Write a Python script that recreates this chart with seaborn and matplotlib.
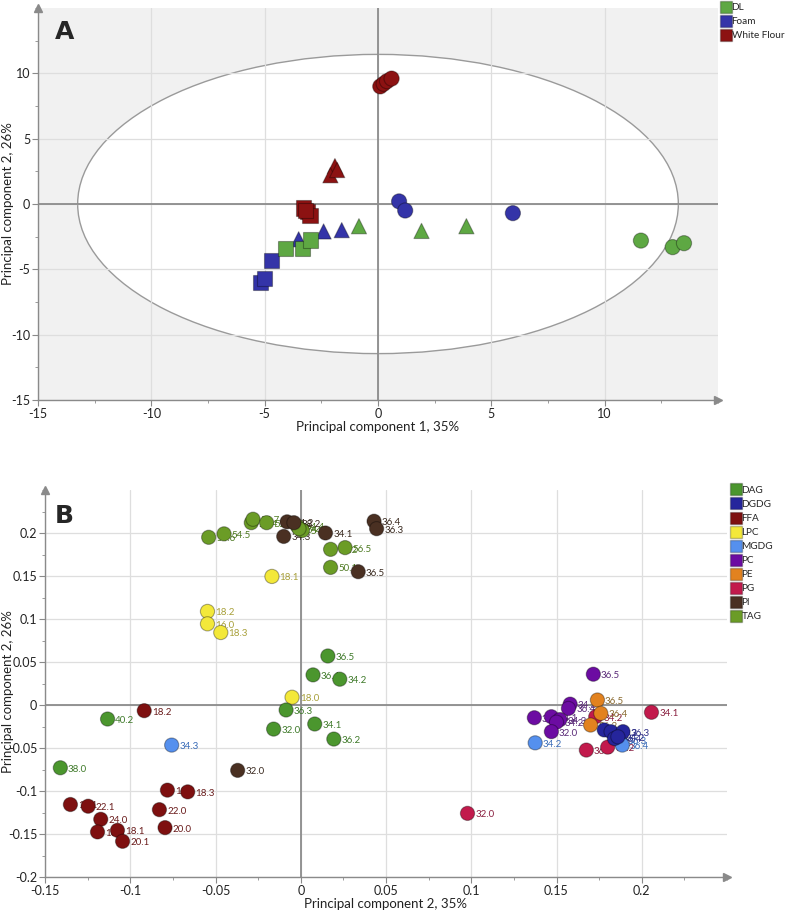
import numpy as np
import pandas as pd
import matplotlib
matplotlib.use('Agg')
import matplotlib.pyplot as plt
import seaborn as sns
from matplotlib.patches import Ellipse
from matplotlib.lines import Line2D
from matplotlib.ticker import MultipleLocator, FuncFormatter

# ---------------- Panel A: samples ----------------
a_group = ['White Flour'] * 4 + ['White Flour'] * 3 + ['White Flour'] * 4 \
    + ['Foam'] * 3 + ['Foam'] * 3 + ['Foam'] * 3 \
    + ['DL'] * 3 + ['DL'] * 3 + ['DL'] * 3
a_shape = ['circle'] * 4 + ['triangle'] * 3 + ['square'] * 4 \
    + ['circle'] * 3 + ['triangle'] * 3 + ['square'] * 3 \
    + ['circle'] * 3 + ['triangle'] * 3 + ['square'] * 3
a_pc1 = [0.1, 0.25, 0.4, 0.6, -1.9, -2.1, -1.8, -3.3, -3.1, -3.0, -3.2,
         0.93, 1.2, 5.95, -3.5, -2.4, -1.6, -4.7, -5.2, -5.0,
         11.6, 13.0, 13.5, -0.84, 1.92, 3.9, -4.07, -3.32, -2.97]
a_pc2 = [9.0, 9.2, 9.4, 9.6, 2.9, 2.2, 2.6, -0.3, -0.6, -0.9, -0.5,
         0.2, -0.5, -0.7, -2.7, -2.1, -2.0, -4.35, -6.0, -5.7,
         -2.8, -3.3, -3.0, -1.7, -2.06, -1.7, -3.4, -3.4, -2.75]
a_groups = ['DL', 'Foam', 'White Flour']
a_colors = {'DL': '#5ea843', 'Foam': '#3434a8', 'White Flour': '#8c1212'}

# ---------------- Panel B: lipid species ----------------
b_class = (['TAG'] * 11 + ['PI'] * 8 + ['LPC'] * 5 + ['DAG'] * 9 + ['FFA'] * 11
           + ['MGDG'] * 4 + ['PG'] * 5 + ['PE'] * 3 + ['PC'] * 8 + ['DGDG'] * 5)
b_label = ['54.6', '54.5', '54.4', '54.7', '52.4', '54.4', '54.2', '52.2', '56.5', '50.1', '54.2',
           '34.2', '38.2', '34.3', '34.1', '36.4', '36.3', '36.5', '32.0',
           '18.1', '18.2', '16.0', '18.3', '18.0',
           '36.5', '36.4', '34.2', '36.3', '32.0', '34.1', '36.2', '40.2', '38.0',
           '18.2', '16.1', '22.1', '24.0', '16.0', '18.1', '20.1', '18.0', '18.3', '22.0', '20.0',
           '34.3', '34.2', '36.3', '36.4',
           '32.0', '34.1', '36.3', '36.2', '34.2',
           '36.5', '36.4', '36.2',
           '36.5', '34.3', '36.4', '36.2', '34.1', '34.3', '34.2', '32.0',
           '34.1', '36.2', '36.3', '36.4', '34.2']
b_pc1 = [-0.054, -0.045, -0.029, -0.028, -0.020, -0.002, 0.001, 0.0175, 0.026, 0.0175, -0.001,
         -0.008, -0.004, -0.010, 0.0145, 0.043, 0.0445, 0.0337, -0.037,
         -0.0169, -0.0547, -0.0547, -0.0469, -0.0051,
         0.0159, 0.0072, 0.0229, -0.0086, -0.0159, 0.0082, 0.0194, -0.1133, -0.141,
         -0.0918, -0.1351, -0.1247, -0.1173, -0.1192, -0.1075, -0.1045, -0.0782, -0.0663, -0.0829, -0.0796,
         -0.0757, 0.1375, 0.187, 0.1886,
         0.0978, 0.2057, 0.1675, 0.180, 0.173,
         0.174, 0.176, 0.170,
         0.1716, 0.158, 0.157, 0.137, 0.147, 0.152, 0.150, 0.147,
         0.178, 0.182, 0.189, 0.184, 0.186]
b_pc2 = [0.195, 0.199, 0.212, 0.216, 0.212, 0.208, 0.203, 0.181, 0.183, 0.160, 0.205,
         0.213, 0.212, 0.196, 0.200, 0.2137, 0.205, 0.155, -0.076,
         0.1495, 0.1088, 0.0944, 0.0843, 0.009,
         0.057, 0.035, 0.030, -0.0058, -0.028, -0.0221, -0.0396, -0.0163, -0.073,
         -0.0066, -0.1157, -0.1177, -0.1329, -0.1476, -0.1457, -0.1585, -0.099, -0.101, -0.1217, -0.1426,
         -0.0466, -0.044, -0.041, -0.0466,
         -0.126, -0.0085, -0.0524, -0.049, -0.0136,
         0.0058, -0.0097, -0.0233,
         0.0358, 0.001, -0.004, -0.0148, -0.0136, -0.017, -0.020, -0.031,
         -0.029, -0.031, -0.031, -0.039, -0.037]
b_classes = ['DAG', 'DGDG', 'FFA', 'LPC', 'MGDG', 'PC', 'PE', 'PG', 'PI', 'TAG']
b_colors = {'DAG': '#4b962e', 'DGDG': '#25259c', 'FFA': '#7e1010', 'LPC': '#f3e83a',
            'MGDG': '#5590ee', 'PC': '#6c0ca2', 'PE': '#e2821f', 'PG': '#c21a4c',
            'PI': '#4a3022', 'TAG': '#6b9c26'}
b_text_colors = {'DAG': '#3f7a2a', 'DGDG': '#303088', 'FFA': '#6a1c1c', 'LPC': '#a8a03a',
                 'MGDG': '#3a6cb8', 'PC': '#5a2a78', 'PE': '#8a6a30', 'PG': '#8a2040',
                 'PI': '#3a2a20', 'TAG': '#4e7a22'}

df_a = pd.DataFrame({'pc1': a_pc1, 'pc2': a_pc2, 'group': a_group, 'shape': a_shape})
df_b = pd.DataFrame({'pc1': b_pc1, 'pc2': b_pc2, 'cls': b_class, 'label': b_label})

sns.set_theme(style='white')
plt.rcParams['font.family'] = ['Lato', 'DejaVu Sans']
plt.rcParams['axes.unicode_minus'] = False

AXIS_GREY = '#8a8a8a'
GRID_GREY = '#dedede'


def style_axes(ax):
    """共用的坐标轴样式：只留左/下轴线，末端加箭头"""
    for side in ['top', 'right']:
        ax.spines[side].set_visible(False)
    for side in ['left', 'bottom']:
        ax.spines[side].set_color(AXIS_GREY)
        ax.spines[side].set_linewidth(1.0)
    ax.tick_params(which='major', direction='out', length=4, width=0.8,
                   color=AXIS_GREY, labelsize=9, labelcolor='#222222', pad=1.5,
                   bottom=True, left=True)
    ax.tick_params(which='minor', direction='out', length=2.5, width=0.6,
                   color=AXIS_GREY, bottom=True, left=True)
    ax.grid(True, which='major', color=GRID_GREY, lw=0.9)
    ax.set_axisbelow(True)
    ax.axhline(0, color='#8c8c8c', lw=1.3, zorder=1)
    ax.axvline(0, color='#8c8c8c', lw=1.3, zorder=1)
    ax.plot(1, 0, marker='>', color=AXIS_GREY, ms=6, transform=ax.transAxes, clip_on=False)
    ax.plot(0, 1, marker='^', color=AXIS_GREY, ms=6, transform=ax.transAxes, clip_on=False)


def fmt_num(v, pos):
    s = f'{v:.2f}'.rstrip('0').rstrip('.')
    return '0' if s in ('-0', '0') else s


fig = plt.figure(figsize=(7.87, 9.15), dpi=100)
ax_a = fig.add_axes([38 / 787, 1 - 400 / 915, 680 / 787, 392 / 915])
ax_b = fig.add_axes([45 / 787, 1 - 877 / 915, 682 / 787, 387 / 915])

# ---------------- Panel A ----------------
ax_a.set_facecolor('#f1f1f1')
ax_a.add_patch(Ellipse((0, 0), 2 * 13.25, 2 * 11.45, facecolor='white',
                       edgecolor='#9a9a9a', lw=1.0, zorder=0.4))
style_axes(ax_a)
sns.scatterplot(data=df_a, x='pc1', y='pc2', hue='group', style='shape',
                markers={'circle': 'o', 'triangle': '^', 'square': 's'},
                palette=a_colors, s=120, edgecolor='#00000055', linewidth=0.8,
                legend=False, ax=ax_a, zorder=3)
ax_a.set_xlim(-15, 15)
ax_a.set_ylim(-15, 15)
ax_a.set_xticks([-15, -10, -5, 0, 5, 10])
ax_a.set_yticks([-15, -10, -5, 0, 5, 10])
ax_a.xaxis.set_minor_locator(MultipleLocator(2.5))
ax_a.yaxis.set_minor_locator(MultipleLocator(2.5))
ax_a.set_xlabel('Principal component 1, 35%', fontsize=9.5, color='#222222', labelpad=1)
ax_a.set_ylabel('Principal component 2, 26%', fontsize=9.5, color='#222222')
ax_a.yaxis.set_label_coords(-0.036, 0.5)
ax_a.text(0.025, 0.97, 'A', transform=ax_a.transAxes, fontsize=18, fontweight='bold',
          ha='left', va='top', family='DejaVu Sans')

leg_a = [Line2D([], [], marker='s', ls='', ms=9, markerfacecolor=a_colors[g],
                markeredgecolor='#00000040') for g in a_groups]
fig.legend(leg_a, a_groups, loc='upper left', bbox_to_anchor=(721 / 787, 1 - 3 / 915),
           frameon=False, fontsize=7.2, handlelength=0.9, handletextpad=0.15,
           labelspacing=0.5, borderaxespad=0, borderpad=0)

# ---------------- Panel B ----------------
style_axes(ax_b)
sns.scatterplot(data=df_b, x='pc1', y='pc2', hue='cls', palette=b_colors, s=105,
                edgecolor='#00000055', linewidth=0.8, legend=False, ax=ax_b, zorder=3)
for _, r in df_b.iterrows():
    ax_b.annotate(r['label'], (r['pc1'], r['pc2']), xytext=(5.5, -1),
                  textcoords='offset points', fontsize=7, va='center', ha='left',
                  color=b_text_colors[r['cls']], zorder=2)
ax_b.set_xlim(-0.15, 0.25)
ax_b.set_ylim(-0.2, 0.25)
ax_b.set_xticks([-0.15, -0.1, -0.05, 0, 0.05, 0.1, 0.15, 0.2])
ax_b.set_yticks([-0.2, -0.15, -0.1, -0.05, 0, 0.05, 0.1, 0.15, 0.2])
ax_b.xaxis.set_major_formatter(FuncFormatter(fmt_num))
ax_b.yaxis.set_major_formatter(FuncFormatter(fmt_num))
ax_b.xaxis.set_minor_locator(MultipleLocator(0.025))
ax_b.yaxis.set_minor_locator(MultipleLocator(0.025))
ax_b.set_xlabel('Principal component 2, 35%', fontsize=9.5, color='#222222', labelpad=1)
ax_b.set_ylabel('Principal component 2, 26%', fontsize=9.5, color='#222222')
ax_b.yaxis.set_label_coords(-0.045, 0.48)
ax_b.text(0.015, 0.965, 'B', transform=ax_b.transAxes, fontsize=18, fontweight='bold',
          ha='left', va='top', family='DejaVu Sans')

leg_b = [Line2D([], [], marker='s', ls='', ms=9, markerfacecolor=b_colors[c],
                markeredgecolor='#00000040') for c in b_classes]
fig.legend(leg_b, b_classes, loc='upper left', bbox_to_anchor=(731 / 787, 1 - 486 / 915),
           frameon=False, fontsize=7.2, handlelength=0.9, handletextpad=0.15,
           labelspacing=0.5, borderaxespad=0, borderpad=0)

fig.savefig('out.png', dpi=100)
plt.close(fig)
